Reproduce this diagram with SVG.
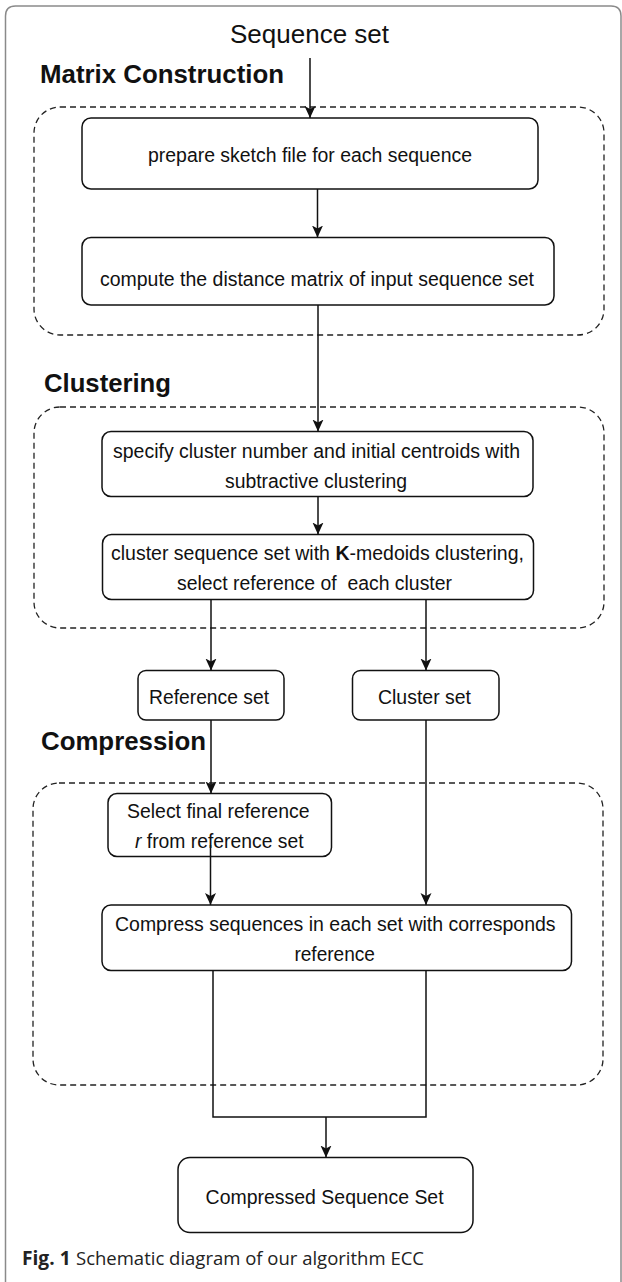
<svg xmlns="http://www.w3.org/2000/svg" width="622" height="1282" viewBox="0 0 622 1282">
<style>
.frame{fill:none;stroke:#8a8a8a;stroke-width:1.5}
.grp{fill:none;stroke:#222;stroke-width:1.3;stroke-dasharray:6 4}
.box{fill:#fff;stroke:#111;stroke-width:1.5}
.t{font-family:"Liberation Sans",Arial,sans-serif;font-size:20px;fill:#111}
.h{font-family:"Liberation Sans",Arial,sans-serif;font-size:25px;font-weight:bold;fill:#111}
.cap{font-family:"Open Sans","Noto Sans",sans-serif;font-size:19px;fill:#222}
.c{fill:none;stroke:#111;stroke-width:1.5}
</style>
<defs>
<marker id="ah" markerUnits="userSpaceOnUse" markerWidth="14" markerHeight="12" refX="12" refY="5.5" orient="auto">
<path d="M0,0 L12,5.5 L0,11 L3,5.5 z" fill="#111"/>
</marker>
</defs>
<rect width="622" height="1282" fill="#fff"/>
<path class="frame" d="M5.5,1282 V16 Q5.5,6 15.5,6 H611 Q621,6 621,16 V1282"/>

<g id="groups">
<rect id="grp-matrix" class="grp" x="34" y="107" width="570" height="228" rx="26"/>
<rect id="grp-clustering" class="grp" x="34" y="407" width="570" height="221" rx="26"/>
<rect id="grp-compression" class="grp" x="33" y="783" width="570" height="302" rx="26"/>
</g>

<g id="labels">
<text id="lbl-input" class="t" style="font-size:26px" x="230" y="43" textLength="159" lengthAdjust="spacingAndGlyphs">Sequence set</text>
<text id="lbl-matrix" class="h" x="40" y="83" textLength="244" lengthAdjust="spacingAndGlyphs">Matrix Construction</text>
<text id="lbl-clustering" class="h" x="44" y="392" textLength="127" lengthAdjust="spacingAndGlyphs">Clustering</text>
<text id="lbl-compression" class="h" x="41" y="750" textLength="165" lengthAdjust="spacingAndGlyphs">Compression</text>
</g>

<g id="n-sketch">
<rect class="box" x="82" y="118" width="456" height="71" rx="9"/>
<text class="t" x="148" y="162" textLength="324" lengthAdjust="spacingAndGlyphs">prepare sketch file for each sequence</text>
</g>
<g id="n-matrix">
<rect class="box" x="82" y="237.5" width="472" height="67.5" rx="9"/>
<text class="t" x="100" y="286" textLength="434" lengthAdjust="spacingAndGlyphs">compute the distance matrix of input sequence set</text>
</g>
<g id="n-subtractive">
<rect class="box" x="102" y="431.5" width="431" height="65" rx="9"/>
<text class="t" x="113" y="458" textLength="407" lengthAdjust="spacingAndGlyphs">specify cluster number and initial centroids with</text>
<text class="t" x="225" y="487.5" textLength="182" lengthAdjust="spacingAndGlyphs">subtractive clustering</text>
</g>
<g id="n-kmedoids">
<rect class="box" x="102.5" y="534.5" width="431" height="65" rx="9"/>
<text class="t" x="317.5" y="560" text-anchor="middle" style="font-size:19.5px">cluster sequence set with <tspan font-weight="bold">K</tspan>-medoids clustering,</text>
<text class="t" x="177" y="590" textLength="275" lengthAdjust="spacingAndGlyphs" style="white-space:pre">select reference of  each cluster</text>
</g>
<g id="n-refset">
<rect class="box" x="138" y="670.5" width="146" height="49.5" rx="8"/>
<text class="t" x="149" y="704" textLength="120" lengthAdjust="spacingAndGlyphs">Reference set</text>
</g>
<g id="n-clusterset">
<rect class="box" x="352.5" y="670.5" width="146.5" height="49.5" rx="8"/>
<text class="t" x="378" y="704" textLength="93" lengthAdjust="spacingAndGlyphs">Cluster set</text>
</g>
<g id="n-final">
<rect class="box" x="108" y="793.5" width="223.5" height="63" rx="9"/>
<text class="t" x="127" y="818" textLength="182.5" lengthAdjust="spacingAndGlyphs">Select final reference</text>
<text class="t" x="135" y="848" textLength="168.6" lengthAdjust="spacingAndGlyphs"><tspan font-style="italic">r</tspan> from reference set</text>
</g>
<g id="n-compress">
<rect class="box" x="102" y="905" width="469.5" height="65.5" rx="9"/>
<text class="t" x="115" y="930.5" textLength="440.6" lengthAdjust="spacingAndGlyphs">Compress sequences in each set with corresponds</text>
<text class="t" x="294.4" y="960.5" textLength="80.6" lengthAdjust="spacingAndGlyphs">reference</text>
</g>
<g id="n-output">
<rect class="box" x="178" y="1157.5" width="295" height="75" rx="12"/>
<text class="t" x="205.6" y="1204" textLength="238" lengthAdjust="spacingAndGlyphs">Compressed Sequence Set</text>
</g>

<g id="connectors">
<path class="c" d="M310,58 V118" marker-end="url(#ah)"/>
<path class="c" d="M317.5,189 V237.5" marker-end="url(#ah)"/>
<path class="c" d="M318,305 V431.5" marker-end="url(#ah)"/>
<path class="c" d="M318,496.5 V534.5" marker-end="url(#ah)"/>
<path class="c" d="M211,599.5 V670.5" marker-end="url(#ah)"/>
<path class="c" d="M426,599.5 V670.5" marker-end="url(#ah)"/>
<path class="c" d="M211,720 V793.5" marker-end="url(#ah)"/>
<path class="c" d="M210.5,845 V905" marker-end="url(#ah)"/>
<path class="c" d="M426,720 V905" marker-end="url(#ah)"/>
<path class="c" d="M213,970.5 V1117 H426 V970.5"/>
<path class="c" d="M326,1117 V1157.5" marker-end="url(#ah)"/>
</g>

<g id="caption">
<text class="cap" x="22" y="1265" font-weight="bold" textLength="48.6" lengthAdjust="spacingAndGlyphs">Fig. 1</text>
<text class="cap" x="76" y="1265" textLength="348" lengthAdjust="spacingAndGlyphs">Schematic diagram of our algorithm ECC</text>
</g>
</svg>
